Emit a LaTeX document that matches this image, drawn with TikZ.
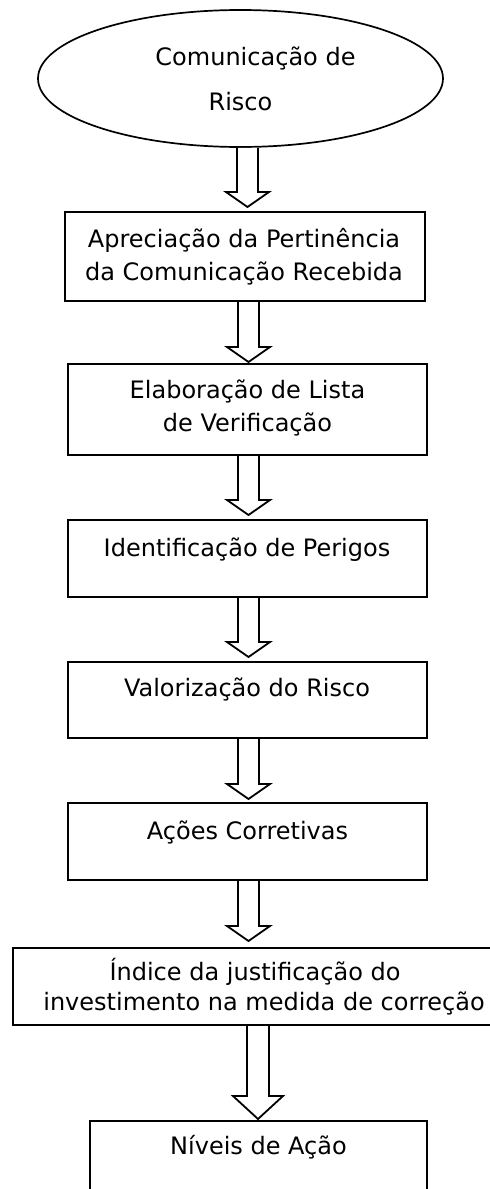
\documentclass[tikz,border=0pt]{standalone}
\usepackage{fontspec}
\setmainfont{DejaVu Sans}
\usetikzlibrary{shapes.geometric,calc}
\tikzset{
  box/.style={draw, line width=2pt, rectangle, inner sep=0pt},
  lbl/.style={inner sep=0pt, anchor=base, align=center, font=\fontsize{24}{33}\selectfont},
  oval/.style={draw, ellipse, line width=1.7pt, inner sep=0pt, minimum width=405pt,
    minimum height=137pt, align=center, font=\fontsize{24}{45}\selectfont},
  blk/.style={draw, line width=1.8pt, fill=white, line join=miter},
}
% #1 from node, #2 to node, #3 x centre, #4 half shaft, #5 half head, #6 head length, #7 gap
\newcommand\blockarr[7]{%
  \draw[blk] let \p1=(#1.south), \p2=(#2.north) in
    ({(#3-#4)*1pt},\y1) -- ({(#3-#4)*1pt},{\y2+(#7+#6)*1pt})
    -- ({(#3-#5)*1pt},{\y2+(#7+#6)*1pt}) -- ({#3*1pt},{\y2+#7*1pt})
    -- ({(#3+#5)*1pt},{\y2+(#7+#6)*1pt}) -- ({(#3+#4)*1pt},{\y2+(#7+#6)*1pt})
    -- ({(#3+#4)*1pt},\y1);
}
\begin{document}
\begin{tikzpicture}[x=1pt,y=-1pt]
\useasboundingbox (0,0) rectangle (490,1189);

\node[oval] (e) at (240.5,78.5) {\hspace*{30pt}Comunicação de\\Risco};

\node[box, minimum width=360pt, minimum height=89pt] (b1) at (245,256.5) {};
\node[box, minimum width=359pt, minimum height=91pt] (b2) at (247.5,409.5) {};
\node[box, minimum width=359pt, minimum height=77pt] (b3) at (247.5,558.5) {};
\node[box, minimum width=359pt, minimum height=76pt] (b4) at (247.5,700) {};
\node[box, minimum width=359pt, minimum height=77pt] (b5) at (247.5,841.5) {};
\node[box, minimum width=479pt, minimum height=77pt] (b6) at (252.5,986.5) {};
\node[box, minimum width=337pt, minimum height=89pt] (b7) at (258.5,1165.5) {};

\node[lbl] (t1) at (244,280) {Apreciação da Pertinência\\da Comunicação Recebida};
\node[lbl] (t2) at (247.5,431) {Elaboração de Lista\\de Verificação};
\node[lbl] (t3) at (247,556) {Identificação de Perigos};
\node[lbl] (t4) at (247,696) {Valorização do Risco};
\node[lbl] (t5) at (247.5,839) {Ações Corretivas};
\node[lbl, font=\fontsize{24}{30}\selectfont] (t6) at (264,1010)
  {Índice da justificação do\hspace*{18pt}\\investimento na medida de correção};
\node[lbl] (t7) at (258.5,1154) {Níveis de Ação};

\blockarr{e}{b1}{247.5}{10.5}{21.5}{15}{4}
\blockarr{b1}{b2}{248.5}{10.5}{21.5}{15}{1}
\blockarr{b2}{b3}{248.5}{10.5}{21.5}{15}{4}
\blockarr{b3}{b4}{248.5}{10.5}{21.5}{15}{4}
\blockarr{b4}{b5}{248.5}{10.5}{21.5}{15}{3}
\blockarr{b5}{b6}{248.5}{10.5}{21.5}{15}{6}
\blockarr{b6}{b7}{258}{11}{25}{23}{1}
\end{tikzpicture}
\end{document}
